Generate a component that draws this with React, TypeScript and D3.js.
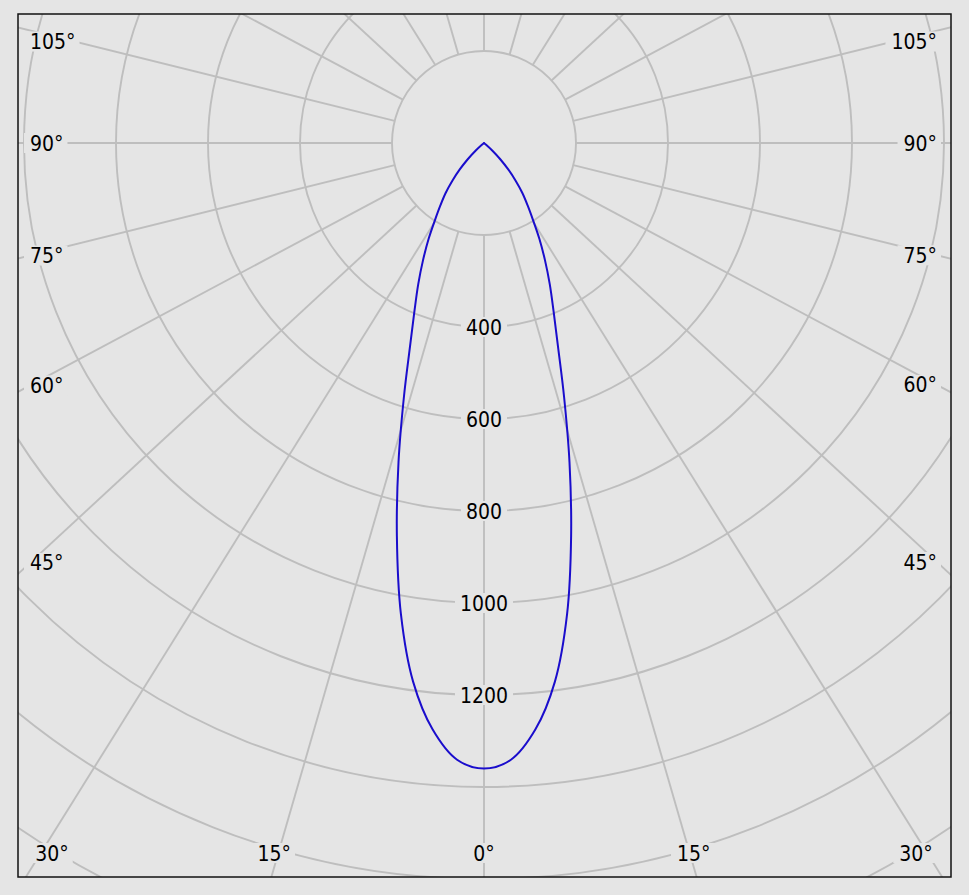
import React, { useLayoutEffect, useRef, useState } from 'react';
import * as d3 from 'd3';

// Luminous intensity (cd) by gamma angle (deg from nadir), symmetric curve
const gammaDeg = [0, 2.5, 5, 7.5, 10, 12.5, 15, 17.5, 20, 22.5, 25, 27.5, 30, 32.5, 35, 37.5, 40, 42.5, 45, 47.5, 50, 52.5];
const intensity = [1360, 1342, 1280, 1181, 1040, 875, 718, 579, 470, 395, 338, 287, 241, 198, 165, 137, 107, 78, 50, 25, 6, 0];

const ringValues = [200, 400, 600, 800, 1000, 1200, 1400, 1600, 1800];
const ringLabelValues = [400, 600, 800, 1000, 1200];
const gridAngles = [0, 15, 30, 45, 60, 75, 90, 105, 120, 135, 150, 165, 180];
const angleLabelValues = [0, 15, 30, 45, 60, 75, 90, 105];

const BG = '#e5e5e5';
const GRID = '#bebebe';
const FONT = "'DejaVu Sans Condensed', 'DejaVu Sans', sans-serif";

function Label({ x, y, anchor, text, padL = 5, padR = 5, h = 20 }: any) {
  const ref = useRef<SVGTextElement>(null);
  const [bb, setBb] = useState<any>(null);
  useLayoutEffect(() => {
    if (ref.current) {
      const b = ref.current.getBBox();
      setBb({ x: b.x, width: b.width });
    }
  }, [x, y, text]);
  return (
    <g>
      {bb && (
        <rect x={bb.x - padL} y={y - h / 2} width={bb.width + padL + padR} height={h} fill={BG} />
      )}
      <text
        ref={ref}
        x={x}
        y={y}
        dy="0.36em"
        textAnchor={anchor}
        fontFamily={FONT}
        fontStretch="condensed"
        fontSize={21}
        fill="#000"
      >
        {text}
      </text>
    </g>
  );
}

export default function App() {
  const W = 969;
  const H = 895;
  const fx0 = 18, fy0 = 14, fx1 = 951, fy1 = 877;
  const cx = 484, cy = 143;
  const r = d3.scaleLinear().domain([0, 200]).range([0, 92]);
  const k = (fx1 - fx0) / (fy1 - fy0);
  const rad = (d: number) => (d * Math.PI) / 180;

  // curve points: left side then right side
  const pts: [number, number][] = [];
  for (let i = gammaDeg.length - 1; i >= 1; i--) pts.push([Math.PI + rad(gammaDeg[i]), intensity[i]]);
  for (let i = 0; i < gammaDeg.length; i++) pts.push([Math.PI - rad(gammaDeg[i]), intensity[i]]);
  const lineGen = d3
    .lineRadial<[number, number]>()
    .angle((d) => d[0])
    .radius((d) => r(d[1]))
    .curve(d3.curveCatmullRom.alpha(0.5));
  const curvePath = lineGen(pts) || '';

  // radial grid lines (stretched by plot aspect)
  const dirs: { s: number; a: number; ux: number; uy: number }[] = [];
  gridAngles.forEach((a) => {
    const sides = a === 0 || a === 180 ? [1] : [-1, 1];
    sides.forEach((s) => {
      const dx = s * k * Math.sin(rad(a));
      const dy = Math.cos(rad(a));
      const n = Math.hypot(dx, dy);
      dirs.push({ s, a, ux: dx / n, uy: dy / n });
    });
  });
  const r0 = r(200);

  // angle labels
  const labels: any[] = [];
  const xl = 30, xr = 937, yb = 853, ybHit = 867;
  angleLabelValues.forEach((a) => {
    const sides = a === 0 ? [1] : [-1, 1];
    sides.forEach((s) => {
      const dx = s * k * Math.sin(rad(a));
      const dy = Math.cos(rad(a));
      let side = false;
      let y = 0;
      if (Math.abs(dx) > 1e-9) {
        const t = ((s < 0 ? xl : xr) - cx) / dx;
        y = cy + t * dy;
        if (y <= yb) side = true;
      }
      if (side) {
        labels.push({ x: s < 0 ? xl : xr, y: Math.max(y, 41.5), anchor: s < 0 ? 'start' : 'end', text: `${a}°`, key: `a${a}${s}` });
      } else {
        let x = cx + (dx * (ybHit - cy)) / dy;
        x = Math.min(Math.max(x, 52), 916);
        labels.push({ x, y: yb, anchor: 'middle', text: `${a}°`, key: `a${a}${s}` });
      }
    });
  });

  return (
    <svg width={W} height={H} style={{ position: 'absolute', left: 0, top: 0 }}>
      <defs>
        <clipPath id="plotClip">
          <rect x={fx0} y={fy0} width={fx1 - fx0} height={fy1 - fy0} />
        </clipPath>
      </defs>
      <rect x={0} y={0} width={W} height={H} fill={BG} />
      <g clipPath="url(#plotClip)">
        {ringValues.map((v) => (
          <circle key={v} cx={cx} cy={cy} r={r(v)} fill="none" stroke={GRID} strokeWidth={1.9} />
        ))}
        {dirs.map((d, i) => (
          <line
            key={i}
            x1={cx + d.ux * r0}
            y1={cy + d.uy * r0}
            x2={cx + d.ux * 3000}
            y2={cy + d.uy * 3000}
            stroke={GRID}
            strokeWidth={1.9}
          />
        ))}
        {ringLabelValues.map((v) => (
          <Label key={v} x={cx} y={cy + r(v)} anchor="middle" text={String(v)} />
        ))}
        {labels.map((l) => (
          <Label key={l.key} x={l.x} y={l.y} anchor={l.anchor} text={l.text} padL={6} padR={4} />
        ))}
        <path d={curvePath} transform={`translate(${cx},${cy})`} fill="none" stroke="#1a0dcc" strokeWidth={2} strokeLinejoin="round" strokeLinecap="round" />
      </g>
      <rect x={fx0} y={fy0} width={fx1 - fx0} height={fy1 - fy0} fill="none" stroke="#111" strokeWidth={1.5} />
    </svg>
  );
}
